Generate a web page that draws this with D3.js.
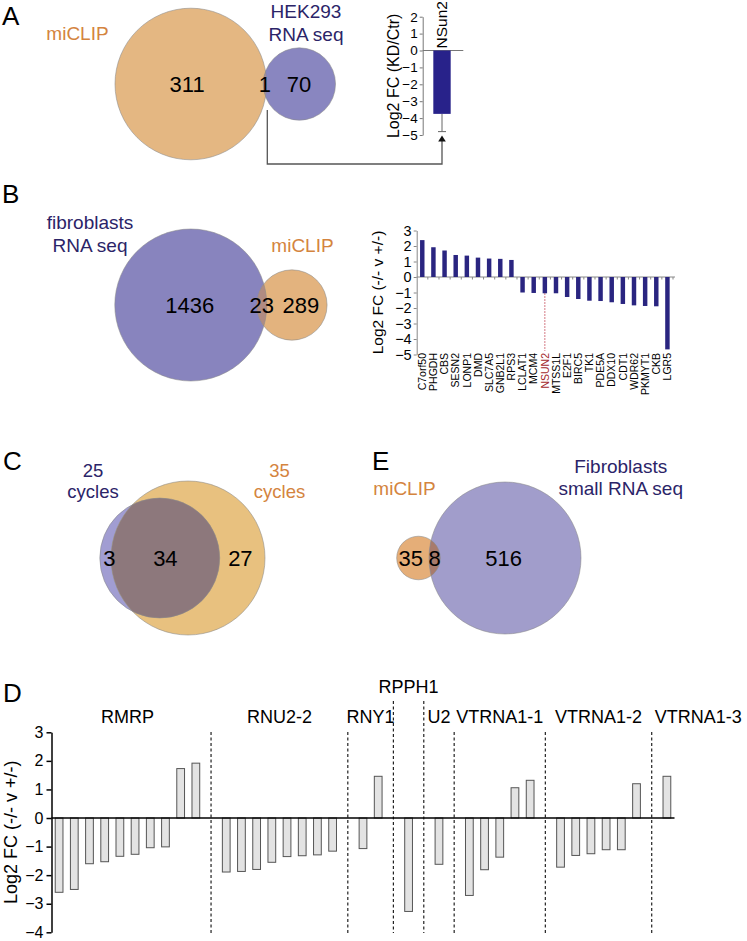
<!DOCTYPE html>
<html><head><meta charset="utf-8">
<script src="https://cdn.jsdelivr.net/npm/d3@7"></script>
<style>
body{margin:0;background:#fff}
svg{display:block}
text{font-family:"Liberation Sans",Arial,Helvetica,sans-serif}
</style>
</head><body>
<svg id="chart" width="747" height="941"></svg>
<script>
// ---------------- DATA ----------------
// Venn counts: [only set 0, overlap, only set 1]
const vennASets = [["miCLIP"], ["HEK293", "RNA seq"]];
const vennACounts = [311, 1, 70];
const vennBSets = [["fibroblasts", "RNA seq"], ["miCLIP"]];
const vennBCounts = [1436, 23, 289];
const vennCSets = [["25", "cycles"], ["35", "cycles"]];
const vennCCounts = [3, 34, 27];
const vennESets = [["miCLIP"], ["Fibroblasts", "small RNA seq"]];
const vennECounts = [35, 8, 516];

// Panel A bar
const nsunCategory = ["NSun2"];
const nsunValue = [-3.75];
const nsunError = [1.05];
const nsunTicks = [2, 1, 0, -1, -2, -3, -4, -5];

// Panel B bars
const geneCategories = ["C7orf50","PHGDH","CBS","SESN2","LONP1","DMD","SLC7A5","GNB2L1","RPS3",
  "LCLAT1","MCM4","NSUN2","MTSS1L","E2F1","BIRC5","TK1","PDE5A","DDX10","CDT1","WDR62","PKMYT1","CKB","LGR5"];
const geneValues = [2.38, 1.92, 1.71, 1.42, 1.38, 1.25, 1.19, 1.17, 1.1,
  -1.0, -1.03, -1.05, -1.05, -1.29, -1.42, -1.53, -1.55, -1.63, -1.74, -1.83, -1.87, -1.89, -4.67];
const geneTicks = [3, 2, 1, 0, -1, -2, -3, -4, -5];
const geneHighlight = "NSUN2";

// Panel D bars
const rnaGroups = ["RMRP", "RNU2-2", "RNY1", "RPPH1", "U2", "VTRNA1-1", "VTRNA1-2", "VTRNA1-3"];
const rnaValues = [
  [-2.6, -2.5, -1.6, -1.53, -1.34, -1.27, -1.04, -1.01, 1.73, 1.92],
  [-1.89, -1.87, -1.8, -1.55, -1.35, -1.32, -1.29, -1.16],
  [-1.07, 1.46],
  [-3.27],
  [-1.62],
  [-2.71, -1.81, -1.37, 1.06, 1.32],
  [-1.72, -1.31, -1.25, -1.11, -1.11, 1.2],
  [1.46]
];
const rnaTicks = [3, 2, 1, 0, -1, -2, -3, -4];

// ---------------- DRAW ----------------
const svg = d3.select("#chart");
const NAVY = "#2b2468", ORANGE = "#d4843e";
const FONT = '"Liberation Sans",Arial,sans-serif';

// panel letters
[["A", 2, 25], ["B", 2, 203], ["C", 3, 470], ["E", 372, 470], ["D", 3, 702]].forEach(([t, x, y]) =>
  svg.append("text").attr("x", x).attr("y", y).attr("font-size", 26).text(t));

function lensArea(d, r1, r2) {
  if (d >= r1 + r2) return 0;
  if (d <= Math.abs(r1 - r2)) return Math.PI * Math.min(r1, r2) ** 2;
  const a = r1 * r1 * Math.acos((d * d + r1 * r1 - r2 * r2) / (2 * d * r1));
  const b = r2 * r2 * Math.acos((d * d + r2 * r2 - r1 * r1) / (2 * d * r2));
  const c = 0.5 * Math.sqrt((-d + r1 + r2) * (d + r1 - r2) * (d - r1 + r2) * (d + r1 + r2));
  return a + b - c;
}

let clipId = 0;
function venn(cfg) {
  const {counts, sets, cx, cy, rMax, colors, labels} = cfg;
  const t0 = counts[0] + counts[1], t1 = counts[2] + counts[1];
  const tMax = Math.max(t0, t1);
  const r = d3.scaleSqrt().domain([0, tMax]).range([0, rMax]);
  const r0 = r(t0), r1 = r(t1);
  const target = counts[1] / tMax * Math.PI * rMax * rMax;
  let lo = Math.abs(r0 - r1), hi = r0 + r1;
  for (let i = 0; i < 60; i++) {
    const m = (lo + hi) / 2;
    if (lensArea(m, r0, r1) > target) lo = m; else hi = m;
  }
  const d = (lo + hi) / 2;
  let c0, c1;
  if (t0 >= t1) { c0 = cx; c1 = cx + d; } else { c1 = cx; c0 = cx - d; }
  const g = svg.append("g");
  const id = "clip" + (clipId++);
  g.append("clipPath").attr("id", id).append("circle").attr("cx", c0).attr("cy", cy).attr("r", r0);
  g.append("circle").attr("cx", c0).attr("cy", cy).attr("r", r0).attr("fill", colors[0]);
  g.append("circle").attr("cx", c1).attr("cy", cy).attr("r", r1).attr("fill", colors[1]);
  g.append("circle").attr("cx", c1).attr("cy", cy).attr("r", r1).attr("fill", colors[2]).attr("clip-path", `url(#${id})`);
  [[c0, r0], [c1, r1]].forEach(([x, rr]) =>
    g.append("circle").attr("cx", x).attr("cy", cy).attr("r", rr)
      .attr("fill", "none").attr("stroke", "#8a8a8a").attr("stroke-opacity", 0.7).attr("stroke-width", 0.8));
  // count labels
  const a0 = c0 - r0, b0 = c0 + r0, a1 = c1 - r1, b1 = c1 + r1;
  const xs = [(a0 + Math.max(a0, a1)) / 2, (Math.max(a0, a1) + Math.min(b0, b1)) / 2, (Math.min(b0, b1) + b1) / 2];
  if (a1 <= a0) xs[0] = a0;
  counts.forEach((c, i) => g.append("text").attr("x", xs[i] + (cfg.shift ? cfg.shift[i] : 0)).attr("y", cy)
    .attr("dy", "0.36em").attr("text-anchor", "middle").attr("font-size", 22).text(c));
  // set labels
  sets.forEach((lines, i) => {
    const L = labels[i];
    const t = g.append("text").attr("text-anchor", "middle").attr("font-size", L.fs || 19).attr("fill", L.color);
    lines.forEach((ln, k) => t.append("tspan").attr("x", L.x).attr("y", L.y + k * L.lh).text(ln));
  });
  return {c0, c1, r0, r1};
}

const vA = venn({counts: vennACounts, sets: vennASets, cx: 190.8, cy: 84, rMax: 75.8,
  colors: ["#e4b782", "#8986c0", "#ad8f95"], shift: [-2, 0, -2],
  labels: [{x: 77.5, y: 40, lh: 23, color: ORANGE}, {x: 306, y: 17.5, lh: 23, color: NAVY}]});
venn({counts: vennBCounts, sets: vennBSets, cx: 190.8, cy: 305, rMax: 76,
  colors: ["#8884be", "#e3b37e", "#b08b82"], shift: [4, 0, 4],
  labels: [{x: 90, y: 228.5, lh: 23, color: NAVY}, {x: 302.5, y: 251.5, lh: 23, color: ORANGE}]});
venn({counts: vennCCounts, sets: vennCSets, cx: 188, cy: 558, rMax: 77,
  colors: ["#a19dd2", "#e8c17f", "#8d787c"], shift: [4, 0, -2],
  labels: [{x: 93, y: 477, lh: 20.5, fs: 18.5, color: NAVY}, {x: 279.5, y: 477, lh: 20.5, fs: 18.5, color: ORANGE}]});
venn({counts: vennECounts, sets: vennESets, cx: 505, cy: 558, rMax: 76,
  colors: ["#e5ae78", "#a19dcb", "#a87b6c"], shift: [-2, 0, -7],
  labels: [{x: 404.5, y: 495, lh: 22, color: ORANGE}, {x: 620.7, y: 473.3, lh: 21.8, color: NAVY}]});

// ---------- Panel A bar ----------
{
  const y = d3.scaleLinear().domain([-5, 2]).range([135, 16.7]);
  const x = d3.scaleBand().domain(nsunCategory).range([422.7, 461.3]).paddingInner(0.55).paddingOuter(0.275);
  const g = svg.append("g");
  const ax = g.append("g").attr("transform", "translate(422.7,0)")
    .call(d3.axisLeft(y).tickValues(nsunTicks).tickSize(3).tickSizeOuter(0).tickPadding(2).tickFormat(d3.format("d")));
  ax.selectAll("path,line").attr("stroke", "#777");
  ax.selectAll("text").attr("font-size", 13.5).attr("font-family", FONT).attr("fill", "#000");
  g.append("line").attr("x1", 422.7).attr("x2", 463.3).attr("y1", y(0)).attr("y2", y(0)).attr("stroke", "#777");
  const cx = x(nsunCategory[0]) + x.bandwidth() / 2;
  const yErr = y(nsunValue[0] - nsunError[0]);
  g.append("line").attr("x1", cx).attr("x2", cx).attr("y1", y(nsunValue[0])).attr("y2", yErr).attr("stroke", "#666").attr("stroke-width", 1);
  g.append("line").attr("x1", cx - 4).attr("x2", cx + 4).attr("y1", yErr).attr("y2", yErr).attr("stroke", "#666").attr("stroke-width", 1);
  g.selectAll("rect.b").data(nsunValue).join("rect")
    .attr("x", x(nsunCategory[0])).attr("width", x.bandwidth())
    .attr("y", d => y(Math.max(0, d))).attr("height", d => Math.abs(y(d) - y(0))).attr("fill", "#28228a");
  g.append("text").attr("transform", `translate(${cx + 5},${y(0) - 2}) rotate(-90)`)
    .attr("font-size", 15.5).text(nsunCategory[0]);
  g.append("text").attr("transform", `translate(399,${(y(2) + y(-5)) / 2}) rotate(-90)`)
    .attr("text-anchor", "middle").attr("font-size", 16).text("Log2 FC (KD/Ctr)");
  const sx = vA.c0 + vA.r0 + 0.7;
  g.append("path").attr("d", `M${sx},110 V164 H${cx} V141`).attr("fill", "none").attr("stroke", "#555").attr("stroke-width", 1.3);
  g.append("path").attr("d", `M${cx},${yErr + 4} L${cx - 3.8},${yErr + 10} L${cx + 3.8},${yErr + 10} Z`).attr("fill", "#111");
}

// ---------- Panel B bars ----------
{
  const y = d3.scaleLinear().domain([-5, 3]).range([354.5, 230.5]);
  const x = d3.scaleBand().domain(geneCategories).range([416.7, 673]).paddingInner(0.6).paddingOuter(0.3);
  const g = svg.append("g");
  const ax = g.append("g").attr("transform", "translate(416.7,0)")
    .call(d3.axisLeft(y).tickValues(geneTicks).tickSize(3).tickSizeOuter(0).tickPadding(2).tickFormat(d3.format("d")));
  ax.selectAll("path,line").attr("stroke", "#888");
  ax.selectAll("text").attr("font-size", 14.5).attr("font-family", FONT).attr("fill", "#000");
  g.append("line").attr("x1", 416.7).attr("x2", 675).attr("y1", y(0)).attr("y2", y(0)).attr("stroke", "#888");
  g.selectAll("line.tk").data(geneCategories).join("line").attr("class", "tk")
    .attr("x1", d => x(d) + x.bandwidth() / 2 + x.step() / 2).attr("x2", d => x(d) + x.bandwidth() / 2 + x.step() / 2)
    .attr("y1", y(0)).attr("y2", y(0) + 2.5).attr("stroke", "#888");
  const hi = geneCategories.indexOf(geneHighlight);
  const hx = x(geneHighlight) + x.bandwidth() / 2;
  g.append("line").attr("x1", hx).attr("x2", hx).attr("y1", y(geneValues[hi])).attr("y2", 351)
    .attr("stroke", "#c03a48").attr("stroke-width", 0.9).attr("stroke-dasharray", "1.5,1.5");
  g.selectAll("rect.b").data(geneValues).join("rect").attr("class", "b")
    .attr("x", (d, i) => x(geneCategories[i])).attr("width", x.bandwidth())
    .attr("y", d => y(Math.max(0, d))).attr("height", d => Math.abs(y(d) - y(0))).attr("fill", "#2a2580");
  g.selectAll("text.lab").data(geneCategories).join("text").attr("class", "lab")
    .attr("transform", d => `translate(${x(d) + x.bandwidth() / 2},353) rotate(-90)`)
    .attr("dy", "0.36em").attr("text-anchor", "end").attr("font-size", 10.5)
    .attr("fill", d => d === geneHighlight ? "#a3282c" : "#000").text(d => d);
  g.append("text").attr("transform", `translate(383,${(y(3) + y(-5)) / 2}) rotate(-90)`)
    .attr("text-anchor", "middle").attr("font-size", 15.5).text("Log2 FC (-/- v +/-)");
}

// ---------- Panel D bars ----------
{
  const slots = [];
  const groupSlots = [];
  const seps = [];
  rnaGroups.forEach((gname, gi) => {
    if (gi > 0) { seps.push({slot: slots.length, left: rnaGroups[gi - 1], right: gname}); slots.push(null); }
    const idx = [];
    rnaValues[gi].forEach(v => { idx.push(slots.length); slots.push({group: gname, value: v}); });
    groupSlots.push(idx);
  });
  const y = d3.scaleLinear().domain([-4, 3]).range([932.3, 732.3]);
  const x = d3.scaleBand().domain(d3.range(slots.length)).range([51.5, 674.5]).paddingInner(0.49).paddingOuter(0.245);
  const g = svg.append("g");
  const bars = slots.map((s, i) => s ? {i, ...s} : null).filter(Boolean);
  g.selectAll("rect.b").data(bars).join("rect").attr("class", "b")
    .attr("x", d => x(d.i)).attr("width", x.bandwidth())
    .attr("y", d => y(Math.max(0, d.value))).attr("height", d => Math.abs(y(d.value) - y(0)))
    .attr("fill", "#e3e3e3").attr("stroke", "#555").attr("stroke-width", 1);
  g.selectAll("line.sep").data(seps).join("line").attr("class", "sep")
    .attr("x1", d => x(d.slot) + x.bandwidth() / 2).attr("x2", d => x(d.slot) + x.bandwidth() / 2)
    .attr("y1", d => (d.left === "RPPH1" || d.right === "RPPH1") ? 701 : 732).attr("y2", 933)
    .attr("stroke", "#222").attr("stroke-width", 1.2).attr("stroke-dasharray", "3,2.5");
  g.append("line").attr("x1", 51.5).attr("x2", 674.5).attr("y1", y(0)).attr("y2", y(0)).attr("stroke", "#000").attr("stroke-width", 1.5);
  const ax = g.append("g").attr("transform", "translate(51.5,0)")
    .call(d3.axisLeft(y).tickValues(rnaTicks).tickSize(5).tickSizeOuter(0).tickPadding(3).tickFormat(d3.format("d")));
  ax.selectAll("path,line").attr("stroke", "#000").attr("stroke-width", 1.5);
  ax.selectAll("text").attr("font-size", 16).attr("font-family", FONT).attr("fill", "#000");
  rnaGroups.forEach((gname, gi) => {
    const idx = groupSlots[gi];
    const cx = (x(idx[0]) + x(idx[idx.length - 1]) + x.bandwidth()) / 2;
    const last = gi === rnaGroups.length - 1;
    const t = g.append("text").attr("font-size", 18).attr("y", gname === "RPPH1" ? 693 : 722.5).text(gname);
    if (last) {
      const s = seps[seps.length - 1];
      t.attr("x", x(s.slot) + x.bandwidth() / 2 + 3).attr("text-anchor", "start");
    } else {
      t.attr("x", cx).attr("text-anchor", "middle");
    }
  });
  g.append("text").attr("transform", `translate(17,${(y(3) + y(-4)) / 2}) rotate(-90)`)
    .attr("text-anchor", "middle").attr("font-size", 18).text("Log2 FC (-/- v +/-)");
}
</script>
</body></html>
